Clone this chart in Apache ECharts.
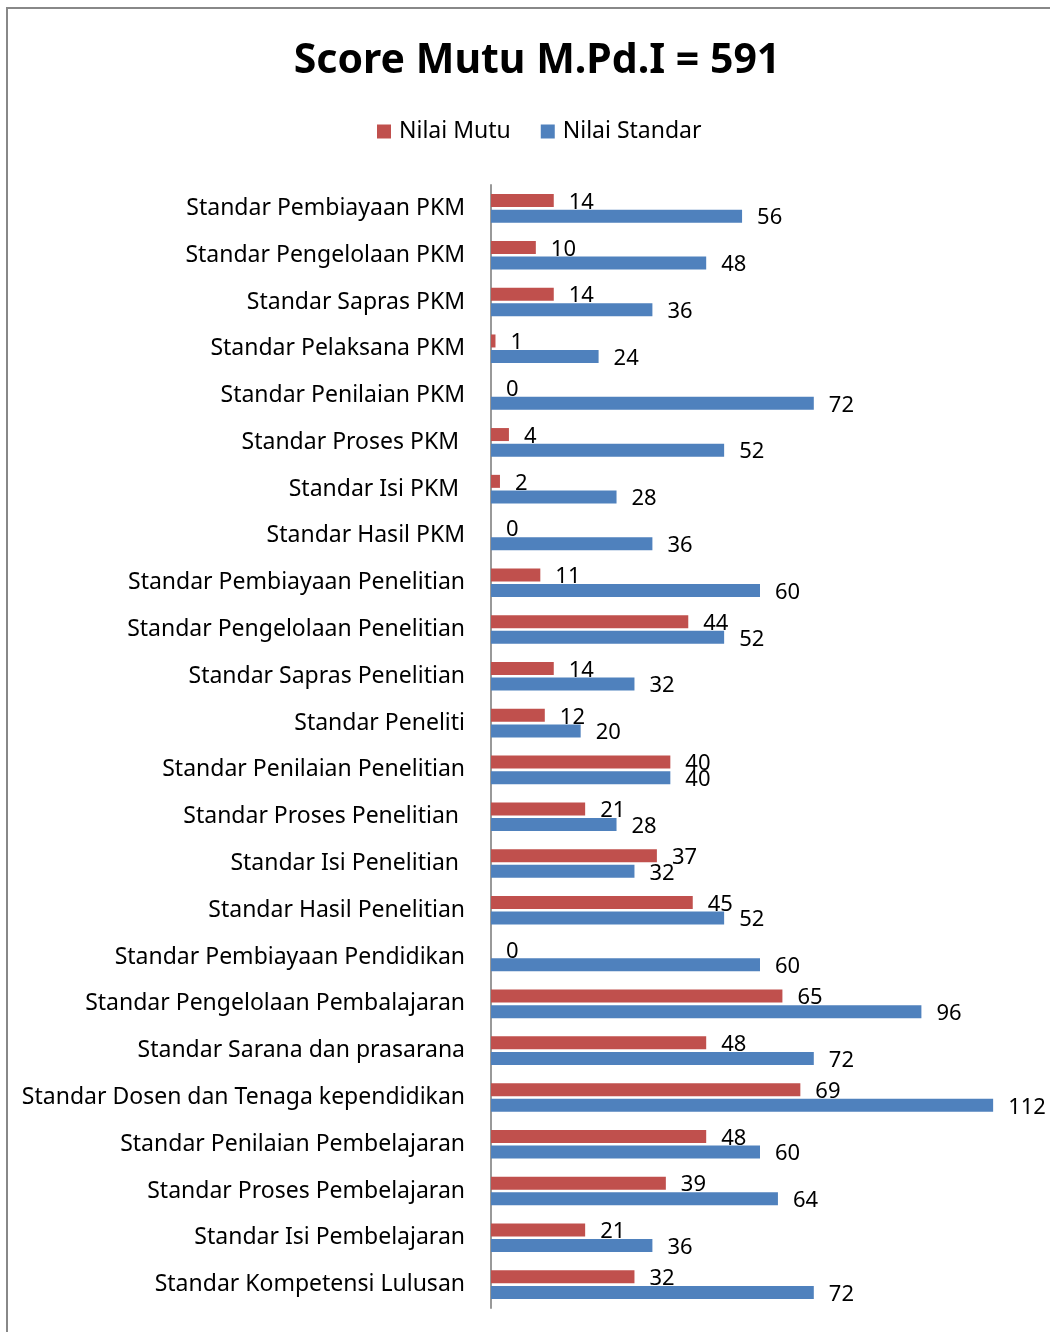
<!DOCTYPE html>
<html><head><meta charset="utf-8">
<script src="https://cdn.jsdelivr.net/npm/echarts@6/dist/echarts.min.js"></script>
<style>html,body{margin:0;padding:0;background:#fff}#c{width:1050px;height:1332px}</style>
</head><body><div id="c"></div>
<script>
const categories = [
  "Standar Pembiayaan PKM","Standar Pengelolaan PKM","Standar Sapras PKM","Standar Pelaksana PKM",
  "Standar Penilaian PKM","Standar Proses PKM ","Standar Isi PKM ","Standar Hasil PKM",
  "Standar Pembiayaan Penelitian","Standar Pengelolaan Penelitian","Standar Sapras Penelitian","Standar Peneliti",
  "Standar Penilaian Penelitian","Standar Proses Penelitian ","Standar Isi Penelitian ","Standar Hasil Penelitian",
  "Standar Pembiayaan Pendidikan","Standar Pengelolaan Pembalajaran","Standar Sarana dan prasarana","Standar Dosen dan Tenaga kependidikan",
  "Standar Penilaian Pembelajaran","Standar Proses Pembelajaran","Standar Isi Pembelajaran","Standar Kompetensi Lulusan"
];
const nilaiMutu = [14,10,14,1,0,4,2,0,11,44,14,12,40,21,37,45,0,65,48,69,48,39,21,32];
const nilaiStandar = [56,48,36,24,72,52,28,36,60,52,32,20,40,28,32,52,60,96,72,112,60,64,36,72];
const titleText = "Score Mutu M.Pd.I = 591";

const FONT = "'Noto Sans', 'Open Sans', sans-serif";
const chart = echarts.init(document.getElementById('c'), null, {renderer:'canvas'});
const labelStyle = {show:true, position:'right', distance:15, fontSize:22, fontFamily:FONT, color:'#000', offset:[0,2]};
chart.setOption({
  animation:false,
  graphic:[{type:'rect', shape:{x:7,y:8,width:1200,height:1500}, style:{fill:'none', stroke:'#888', lineWidth:2}, silent:true}],
  title:{text:titleText, left:532, textAlign:'center', top:36, textStyle:{fontSize:41, fontWeight:'bold', fontFamily:FONT, color:'#000'}},
  legend:{top:115, left:372, itemWidth:14, itemHeight:14, itemGap:30, icon:'rect',
    textStyle:{fontSize:23, fontFamily:FONT, color:'#000', padding:[0,0,0,3]},
    data:['Nilai Mutu','Nilai Standar']},
  grid:{left:491, right:21, top:185, bottom:24, containLabel:false},
  xAxis:{type:'value', min:0, max:120, show:false},
  yAxis:{type:'category', data:categories, inverse:true,
    axisLine:{show:true, lineStyle:{color:'#999', width:2}},
    axisTick:{show:false},
    axisLabel:{fontSize:23, fontFamily:FONT, color:'#000', margin:26}},
  series:[
    {name:'Nilai Mutu', type:'bar', data:nilaiMutu, barWidth:13, barGap:'20%', itemStyle:{color:'#C0504D'}, label:labelStyle},
    {name:'Nilai Standar', type:'bar', data:nilaiStandar, barWidth:13, barGap:'20%', itemStyle:{color:'#4F81BD'}, label:labelStyle}
  ]
});
</script></body></html>
